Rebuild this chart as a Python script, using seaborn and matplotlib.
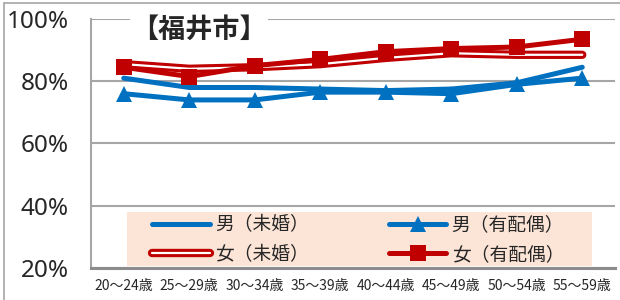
import matplotlib

matplotlib.use("Agg")
import matplotlib.patheffects as pe
import matplotlib.pyplot as plt
import numpy as np
import seaborn as sns
from matplotlib.lines import Line2D
from matplotlib.patches import Rectangle

ages = ["20～24歳", "25～29歳", "30～34歳", "35～39歳",
        "40～44歳", "45～49歳", "50～54歳", "55～59歳"]
yticks = [20, 40, 60, 80, 100]

male_unmarried = [81, 78, 78, 77.5, 77, 77.5, 79.5, 84.5]
male_married = [76, 74, 74, 76.5, 76.5, 76, 79, 81]
female_unmarried = [85.5, 84, 84.5, 85.5, 87.5, 89, 88.5, 88.5]
female_married = [84.5, 81.5, 85, 87, 89.5, 90.5, 91, 93.5]

labels = ["男（未婚）", "女（未婚）", "男（有配偶）", "女（有配偶）"]
title = "【福井市】"

BLUE = "#0070C0"
RED = "#C00000"
GRID = "#A6A6A6"

sns.set_style("white")
plt.rcParams["font.family"] = ["Noto Sans CJK JP", "DejaVu Sans"]

fig = plt.figure(figsize=(6.2, 3.0), dpi=100)
ax = fig.add_axes([91 / 620, 32 / 300, 524 / 620, 249 / 300])

# series drawn in legend order (column-major for ncol=2)
sns.lineplot(x=ages, y=male_unmarried, ax=ax, color=BLUE, linewidth=3.6,
             label=labels[0], zorder=3)
sns.lineplot(x=ages, y=female_unmarried, ax=ax, color="white", linewidth=1.6,
             label=labels[1], zorder=4)
ax.lines[-1].set_path_effects([pe.Stroke(linewidth=6, foreground=RED), pe.Normal()])
sns.lineplot(x=ages, y=male_married, ax=ax, color=BLUE, linewidth=3.6,
             marker="^", markersize=11, markeredgewidth=0, label=labels[2], zorder=3)
sns.lineplot(x=ages, y=female_married, ax=ax, color=RED, linewidth=3.6,
             marker="s", markersize=11, markeredgewidth=0, label=labels[3], zorder=5)

ax.set_ylim(20, 100)
ax.set_xlim(-0.5, 7.5)
ax.set_yticks(yticks)
ax.set_yticklabels([f"{v}%" for v in yticks], fontsize=17.5, family="Noto Sans")
ax.set_xticks(range(len(ages)))
ax.set_xticklabels(ages, fontsize=10)
ax.set_xticks(np.arange(-0.5, len(ages)), minor=True)
ax.tick_params(axis="x", which="major", length=0, pad=8)
ax.tick_params(axis="x", which="minor", length=5, width=1.5, color=GRID)
ax.tick_params(axis="y", length=6, width=1.5, color=GRID, pad=10)
ax.set_xlabel("")
ax.set_ylabel("")

ax.grid(axis="y", color=GRID, linewidth=1.5)
ax.set_axisbelow(True)
for side in ["top", "right"]:
    ax.spines[side].set_visible(False)
ax.spines["left"].set_color(GRID)
ax.spines["left"].set_linewidth(1.5)
ax.spines["bottom"].set_color("#8C8C8C")
ax.spines["bottom"].set_linewidth(2.2)

ax.text(0.077, 0.955, title, transform=ax.transAxes, ha="left", va="center",
        fontsize=19.5, fontweight="bold", zorder=6,
        bbox=dict(facecolor="white", edgecolor="none", pad=1))

# legend background box
ax.add_patch(Rectangle((0.069, 0.0075), 0.887, 0.2175, transform=ax.transAxes,
                       facecolor="#FCE4D6", edgecolor="none", zorder=1.5))
leg = ax.legend(loc="center", bbox_to_anchor=(0.51, 0.114), ncol=2,
                fontsize=13.5, frameon=False, borderaxespad=0, borderpad=0,
                handlelength=3.05, handletextpad=0.28, columnspacing=4.3,
                labelspacing=0.45)

# outer chart frame (left and top edges visible)
fig.add_artist(Line2D([0.006, 0.006], [0, 0.989], transform=fig.transFigure,
                      color=GRID, linewidth=1.2))
fig.add_artist(Line2D([0.006, 1], [0.989, 0.989], transform=fig.transFigure,
                      color=GRID, linewidth=1.2))

fig.savefig("out.png", dpi=100)
plt.close("all")
